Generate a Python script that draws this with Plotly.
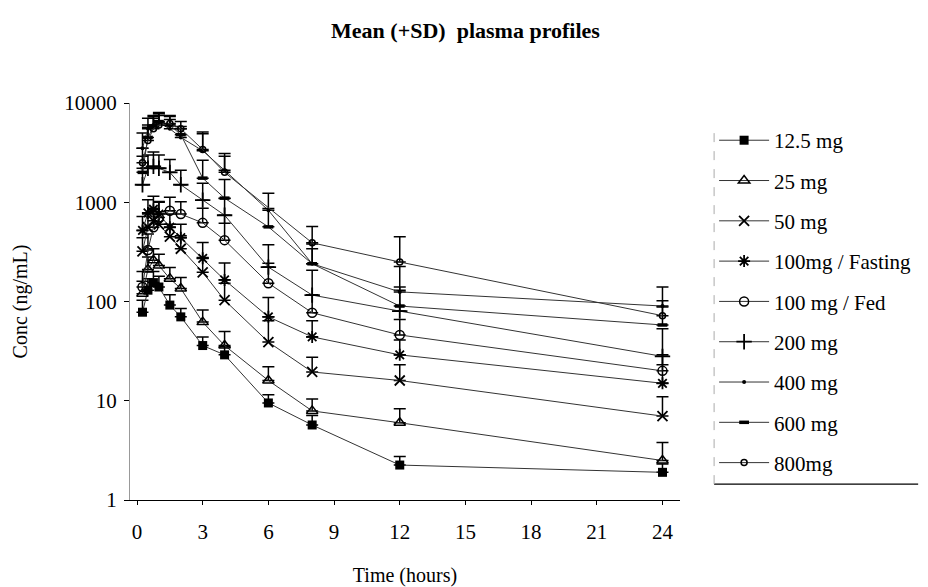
import plotly.graph_objects as go

# ---- data ----
time_h = [0.25, 0.5, 0.75, 1, 1.5, 2, 3, 4, 6, 8, 12, 24]

series_names = ["12.5 mg", "25 mg", "50 mg", "100mg / Fasting", "100 mg / Fed",
                "200 mg", "400 mg", "600 mg", "800mg"]

mean_12_5 = [78, 130, 155, 140, 92, 70, 36, 29, 9.5, 5.7, 2.25, 1.9]
sd_12_5 = [25, 40, 45, 40, 25, 15, 8, 6, 2, 1.4, 0.5, 0.4]

mean_25 = [120, 210, 260, 230, 170, 135, 62, 36, 16, 7.9, 6.0, 2.5]
sd_25 = [40, 70, 80, 70, 50, 40, 20, 14, 6, 2.5, 2.3, 1.3]

mean_50 = [320, 560, 650, 600, 450, 340, 197, 103, 39, 19.5, 16, 7.0]
sd_50 = [120, 200, 220, 200, 150, 120, 80, 50, 25, 8, 7, 4]

mean_100_fast = [520, 780, 850, 760, 560, 440, 272, 165, 70, 44, 29, 15]
sd_100_fast = [200, 280, 300, 260, 200, 160, 120, 80, 40, 20, 12, 8]

mean_100_fed = [140, 330, 560, 700, 820, 760, 620, 415, 153, 77, 46, 20]
sd_100_fed = [60, 150, 250, 300, 300, 250, 250, 200, 90, 40, 20, 9]

mean_200 = [1500, 2200, 2300, 2200, 2000, 1500, 1050, 740, 222, 116, 80, 28]
sd_200 = [700, 800, 900, 800, 700, 600, 500, 350, 150, 90, 50, 25]

mean_400 = [3500, 5500, 6000, 6300, 5500, 4500, 3300, 2100, 830, 240, 125, 90]
sd_400 = [1500, 1500, 1500, 1500, 1300, 1000, 1800, 1000, 400, 140, 100, 50]

mean_600 = [2000, 4500, 5800, 6500, 6000, 4800, 1750, 1100, 565, 240, 90, 58]
sd_600 = [900, 1500, 1500, 1500, 1300, 1000, 900, 600, 300, 100, 50, 30]

mean_800 = [2500, 4200, 5500, 6000, 6200, 5500, 3400, 2000, None, 390, 250, 72]
sd_800 = [1000, 1500, 1500, 1500, 1300, 1000, 1500, 900, None, 180, 200, 30]

means = [mean_12_5, mean_25, mean_50, mean_100_fast, mean_100_fed,
         mean_200, mean_400, mean_600, mean_800]
sds = [sd_12_5, sd_25, sd_50, sd_100_fast, sd_100_fed,
       sd_200, sd_400, sd_600, sd_800]

# ---- styles ----
markers = [
    dict(symbol="square", size=9, color="black"),
    dict(symbol="triangle-up-open", size=10, color="black", line=dict(width=1.5, color="black")),
    dict(symbol="x-thin-open", size=10, color="black", line=dict(width=1.8, color="black")),
    dict(symbol="asterisk-open", size=10, color="black", line=dict(width=1.8, color="black")),
    dict(symbol="circle-open", size=9, color="black", line=dict(width=1.5, color="black")),
    dict(symbol="cross-thin-open", size=11, color="black", line=dict(width=1.8, color="black")),
    dict(symbol="circle", size=4, color="black"),
    dict(symbol="line-ew-open", size=7, color="black", line=dict(width=3.5, color="black")),
    dict(symbol="circle-open", size=6, color="black", line=dict(width=1.5, color="black")),
]

fig = go.Figure()
for name, m, s, mk in zip(series_names, means, sds, markers):
    fig.add_trace(go.Scatter(
        x=time_h, y=m, name=name, mode="lines+markers",
        connectgaps=True, legendgroup=name,
        line=dict(color="#333333", width=1),
        marker=mk,
        error_y=dict(type="data", symmetric=False, array=s,
                     arrayminus=[0] * len(s), color="black",
                     thickness=1.5, width=6),
    ))

font_family = "Liberation Serif, Times New Roman, serif"

# the page body adds an 8 px offset; margins compensate for it
fig.update_layout(
    width=928, height=587,
    paper_bgcolor="white", plot_bgcolor="white",
    margin=dict(l=122, r=256, t=95, b=95),
    font=dict(family=font_family, size=21, color="black"),
    title=dict(text="<b>Mean (+SD)  plasma profiles</b>", x=0.493, xanchor="center",
               y=0.962, yanchor="middle", font=dict(size=22, family=font_family)),
    showlegend=True,
    legend=dict(x=1.062, y=0.957, xanchor="left", yanchor="top",
                borderwidth=0, bgcolor="rgba(0,0,0,0)",
                font=dict(size=21, family=font_family),
                tracegroupgap=10, itemwidth=50),
    shapes=[
        dict(type="line", xref="paper", yref="paper", x0=1.062, x1=1.433,
             y0=0.04, y1=0.04, line=dict(color="black", width=1.2)),
        dict(type="line", xref="paper", yref="paper", x0=1.062, x1=1.062,
             y0=0.04, y1=0.94, line=dict(color="#aaaaaa", width=1, dash="dash")),
    ],
)

fig.update_xaxes(
    range=[-0.32, 24.8], tickvals=[0, 3, 6, 9, 12, 15, 18, 21, 24],
    showline=True, linecolor="black", linewidth=1, showgrid=False, zeroline=False,
    ticks="outside", ticklen=4, tickcolor="black", ticklabelstandoff=9,
    title=dict(text="Time (hours)", standoff=24, font=dict(size=20)),
    tickfont=dict(size=21),
)
fig.update_yaxes(
    type="log", range=[0, 4], tickvals=[1, 10, 100, 1000, 10000],
    ticktext=["1", "10", "100", "1000", "10000"],
    showline=True, linecolor="#999999", linewidth=1, showgrid=False, zeroline=False,
    ticks="outside", ticklen=5, tickcolor="black", ticklabelstandoff=3,
    title=dict(text="Conc (ng/mL)", standoff=31, font=dict(size=20)),
    tickfont=dict(size=21),
)

fig.write_html("out.html")
